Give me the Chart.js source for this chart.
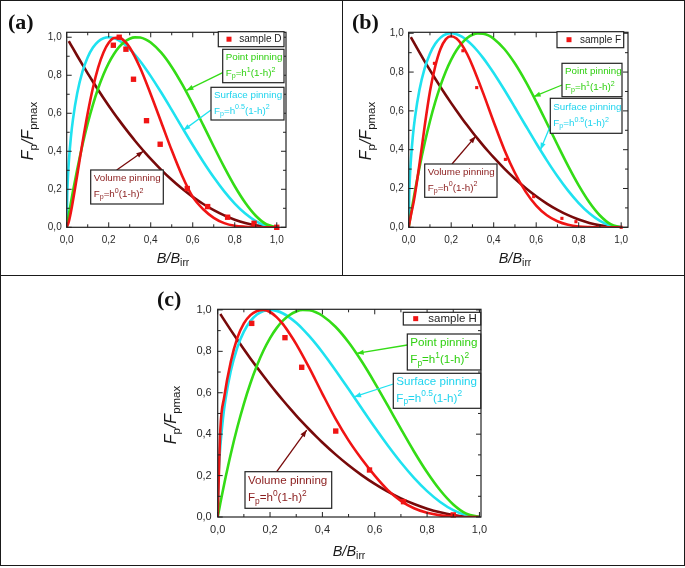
<!DOCTYPE html>
<html><head><meta charset="utf-8">
<script src="https://cdn.jsdelivr.net/npm/chart.js@4/dist/chart.umd.min.js"></script>
<style>
body{margin:0;background:#fff;}
#wrap{position:relative;width:685px;height:568px;overflow:hidden;background:#fff;}
#wrap canvas{position:absolute;}
.ln{position:absolute;background:#1a1a1a;}
</style></head><body>
<div id="wrap">
<canvas id="ca" width="342" height="275" style="left:0;top:0"></canvas>
<canvas id="cb" width="343" height="275" style="left:342px;top:0"></canvas>
<canvas id="cc" width="685" height="293" style="left:0;top:275px"></canvas>
<div class="ln" style="left:0;top:0;width:685px;height:1px"></div>
<div class="ln" style="left:0;top:0;width:1px;height:566px"></div>
<div class="ln" style="left:684px;top:0;width:1px;height:566px"></div>
<div class="ln" style="left:0;top:565px;width:685px;height:1px"></div>
<div class="ln" style="left:342px;top:0;width:1px;height:275px"></div>
<div class="ln" style="left:0;top:275px;width:685px;height:1px"></div>
</div>
<script>
// ---------- data ----------
const H = [0, 0.0025, 0.005, 0.01, 0.02, 0.03, 0.05, 0.075, 0.1, 0.125, 0.15, 0.175, 0.2, 0.225, 0.25, 0.275, 0.3, 0.325, 0.35, 0.375, 0.4, 0.45, 0.5, 0.55, 0.6, 0.65, 0.7, 0.75, 0.8, 0.85, 0.9, 0.95, 1.0];
const pointPinning = [0, 0.0167, 0.0331, 0.0662, 0.1297, 0.1905, 0.3046, 0.4332, 0.5468, 0.6460, 0.7315, 0.8040, 0.864, 0.9122, 0.9492, 0.9757, 0.9923, 0.9995, 0.9982, 0.9888, 0.972, 0.9188, 0.8438, 0.7518, 0.648, 0.5375, 0.4253, 0.3164, 0.216, 0.1291, 0.0608, 0.016, 0];
const surfacePinning = [0, 0.1738, 0.2446, 0.3424, 0.4745, 0.5694, 0.7051, 0.8187, 0.8949, 0.9458, 0.9777, 0.9948, 1.0, 0.9954, 0.9826, 0.9630, 0.9377, 0.9075, 0.8733, 0.8358, 0.7955, 0.7090, 0.6176, 0.5247, 0.4330, 0.3451, 0.2631, 0.1891, 0.1250, 0.0725, 0.0331, 0.0085, 0];
const volumePinning = [null, null, null, 0.9801, 0.9604, 0.9409, 0.9025, 0.8556, 0.81, 0.7656, 0.7225, 0.6806, 0.64, 0.6006, 0.5625, 0.5256, 0.49, 0.4556, 0.4225, 0.3906, 0.36, 0.3025, 0.25, 0.2025, 0.16, 0.1225, 0.09, 0.0625, 0.04, 0.0225, 0.01, 0.0025, 0];

const FIT_H = [0, 0.01, 0.025, 0.05, 0.075, 0.1, 0.125, 0.15, 0.175, 0.2, 0.225, 0.25, 0.275, 0.3, 0.35, 0.4, 0.45, 0.5, 0.55, 0.6, 0.65, 0.7, 0.75, 0.8, 0.85, 0.9, 0.95, 1.0];
const fitD = [0, 0.03, 0.11, 0.274, 0.444, 0.60, 0.734, 0.841, 0.92, 0.971, 0.996, 0.998, 0.98, 0.946, 0.838, 0.70, 0.553, 0.405, 0.27, 0.16, 0.095, 0.05, 0.022, 0.008, 0.003, 0.001, 0, 0];
const fitF = [0, 0.06, 0.14, 0.32, 0.52, 0.70, 0.83, 0.92, 0.97, 0.985, 0.973, 0.941, 0.893, 0.833, 0.693, 0.543, 0.40, 0.28, 0.184, 0.112, 0.062, 0.031, 0.013, 0.004, 0.001, 0, 0, 0];
const fitHcurve = [0, 0.42, 0.58, 0.75, 0.865, 0.935, 0.975, 0.995, 1.0, 0.99, 0.965, 0.93, 0.885, 0.835, 0.72, 0.595, 0.475, 0.37, 0.28, 0.2, 0.13, 0.078, 0.042, 0.02, 0.008, 0.003, 0, 0];

const sampleDx = [0.222, 0.25, 0.282, 0.318, 0.38, 0.445, 0.574, 0.671, 0.766, 0.892, 1.0];
const sampleDy = [0.958, 1.0, 0.937, 0.779, 0.561, 0.437, 0.204, 0.109, 0.053, 0.021, 0.0];
const sampleFx = [0.121, 0.255, 0.32, 0.455, 0.588, 0.721, 0.787, 1.0];
const sampleFy = [0.845, 0.91, 0.72, 0.35, 0.158, 0.046, 0.029, 0.0];
const sampleHx = [0.13, 0.257, 0.321, 0.451, 0.58, 0.71, 0.9];
const sampleHy = [0.935, 0.866, 0.723, 0.415, 0.227, 0.074, 0.01];

const tickValues = [0, 0.2, 0.4, 0.6, 0.8, 1.0];
const tickLabels = ['0,0', '0,2', '0,4', '0,6', '0,8', '1,0'];
const minorTickValues = [0.1, 0.3, 0.5, 0.7, 0.9];

// ---------- styles ----------
const C = {
  red: '#f01414', green: '#34dc16', cyan: '#1fe2f0', brown: '#780a0a',
  greenTxt: '#2fd010', cyanTxt: '#1fd4ee', brownTxt: '#8a1c1c'
};
const SANS = '"Liberation Sans", Arial, sans-serif';
const SERIF = '"Liberation Serif", "Times New Roman", serif';

function xy(xs, ys) { return xs.map((x, i) => ({ x: x, y: ys[i] })); }

function fontFor(p, size) {
  const s = (p.sub || p.sup) ? size * 0.72 : size;
  return (p.i ? 'italic ' : '') + s.toFixed(1) + 'px ' + SANS;
}
function richWidth(ctx, parts, size) {
  let w = 0;
  parts.forEach(p => { ctx.font = fontFor(p, size); w += ctx.measureText(p.t).width; });
  return w;
}
function drawRich(ctx, parts, x, y, size, color, align) {
  ctx.fillStyle = color;
  ctx.textBaseline = 'middle';
  ctx.textAlign = 'left';
  let cx = x;
  if (align === 'center') cx = x - richWidth(ctx, parts, size) / 2;
  parts.forEach(p => {
    ctx.font = fontFor(p, size);
    let dy = 0;
    if (p.sub) dy = size * 0.3;
    if (p.sup) dy = -size * 0.38;
    ctx.fillText(p.t, cx, y + dy);
    cx += ctx.measureText(p.t).width;
  });
}
function formula(exp) {
  return [{ t: 'F' }, { t: 'p', sub: 1 }, { t: '=h' }, { t: exp, sup: 1 }, { t: '(1-h)' }, { t: '2', sup: 1 }];
}
const yTitleParts = [{ t: 'F', i: 1 }, { t: 'p', sub: 1 }, { t: '/', i: 1 }, { t: 'F', i: 1 }, { t: 'pmax', sub: 1 }];
const xTitleParts = [{ t: 'B', i: 1 }, { t: '/', i: 1 }, { t: 'B', i: 1 }, { t: 'irr', sub: 1 }];

const decor = {
  id: 'decor',
  afterDatasetsDraw(chart) {
    const c = chart.options.plugins.decor;
    const ctx = chart.ctx, a = chart.chartArea;
    const xs = chart.scales.x, ys = chart.scales.y;
    ctx.save();
    // frame
    ctx.strokeStyle = '#222'; ctx.lineWidth = 1.2;
    ctx.strokeRect(a.left, a.top, a.right - a.left, a.bottom - a.top);
    // inward ticks on four sides
    ctx.lineWidth = 1;
    const seg = (x1, y1, x2, y2) => { ctx.beginPath(); ctx.moveTo(x1, y1); ctx.lineTo(x2, y2); ctx.stroke(); };
    const doTicks = (vals, len) => vals.forEach(v => {
      const px = xs.getPixelForValue(v), py = ys.getPixelForValue(v);
      seg(px, a.bottom, px, a.bottom - len); seg(px, a.top, px, a.top + len);
      seg(a.left, py, a.left + len, py); seg(a.right, py, a.right - len, py);
    });
    doTicks(tickValues, 5); doTicks(minorTickValues, 3);

    // legend box
    const L = c.legend;
    ctx.fillStyle = '#fff';
    ctx.fillRect(L[0], L[1], L[2] - L[0], L[3] - L[1]);
    ctx.strokeStyle = '#222'; ctx.lineWidth = 1.2;
    ctx.strokeRect(L[0], L[1], L[2] - L[0], L[3] - L[1]);
    const lc = (L[1] + L[3]) / 2;
    ctx.fillStyle = C.red;
    ctx.fillRect(L[0] + c.legMk - 2.5, lc - 2.5, 5, 5);
    ctx.fillStyle = '#222'; ctx.font = c.legFont + 'px ' + SANS;
    ctx.textBaseline = 'middle'; ctx.textAlign = 'left';
    ctx.fillText(c.sampleName, L[0] + c.legTx, lc + 0.5);

    // annotation boxes + arrows
    c.notes.forEach(n => {
      const b = n.box;
      const tipX = xs.getPixelForValue(n.tip[0]), tipY = ys.getPixelForValue(n.tip[1]);
      ctx.strokeStyle = n.line; ctx.fillStyle = n.line; ctx.lineWidth = 1.3;
      seg(n.tail[0], n.tail[1], tipX, tipY);
      const ang = Math.atan2(tipY - n.tail[1], tipX - n.tail[0]);
      ctx.beginPath();
      ctx.moveTo(tipX, tipY);
      ctx.lineTo(tipX - 7 * Math.cos(ang) + 2.6 * Math.sin(ang), tipY - 7 * Math.sin(ang) - 2.6 * Math.cos(ang));
      ctx.lineTo(tipX - 7 * Math.cos(ang) - 2.6 * Math.sin(ang), tipY - 7 * Math.sin(ang) + 2.6 * Math.cos(ang));
      ctx.closePath(); ctx.fill();
      ctx.fillStyle = '#fff';
      ctx.fillRect(b[0], b[1], b[2] - b[0], b[3] - b[1]);
      ctx.strokeStyle = '#222'; ctx.lineWidth = 1.2;
      ctx.strokeRect(b[0], b[1], b[2] - b[0], b[3] - b[1]);
      const h = b[3] - b[1];
      drawRich(ctx, [{ t: n.name }], b[0] + 3, b[1] + 0.245 * h, c.annFont, n.txt, 'left');
      drawRich(ctx, formula(n.exp), b[0] + 3, b[1] + 0.72 * h, c.annFont, n.txt, 'left');
    });
    ctx.restore();
  },
  afterDraw(chart) {
    const c = chart.options.plugins.decor;
    const ctx = chart.ctx;
    ctx.save();
    // panel label
    ctx.font = 'bold 22px ' + SERIF; ctx.fillStyle = '#111';
    ctx.textBaseline = 'middle'; ctx.textAlign = 'left';
    ctx.fillText(c.panel, c.panelPos[0], c.panelPos[1]);
    // y title
    ctx.save();
    ctx.translate(c.yTitle[0], c.yTitle[1]); ctx.rotate(-Math.PI / 2);
    drawRich(ctx, yTitleParts, 0, 0, c.titleFont, '#1a1a1a', 'center');
    ctx.restore();
    drawRich(ctx, xTitleParts, c.xTitle[0], c.xTitle[1], c.titleFont - 1.5, '#1a1a1a', 'center');
    ctx.restore();
  }
};

function makeChart(id, cfg) {
  const tickFont = { family: SANS, size: cfg.tickFont };
  return new Chart(document.getElementById(id), {
    type: 'line',
    data: {
      datasets: [
        { label: cfg.sampleName, data: xy(cfg.sx, cfg.sy), showLine: false, pointStyle: 'rect',
          pointRadius: cfg.markR, pointBackgroundColor: C.red, pointBorderWidth: 0, clip: false },
        { label: 'fit', data: xy(FIT_H, cfg.fit), borderColor: C.red, borderWidth: 2.6, pointRadius: 0, cubicInterpolationMode: 'monotone' },
        { label: 'Point pinning', data: xy(H, pointPinning), borderColor: C.green, borderWidth: 2.6, pointRadius: 0, cubicInterpolationMode: 'monotone' },
        { label: 'Surface pinning', data: xy(H, surfacePinning), borderColor: C.cyan, borderWidth: 2.6, pointRadius: 0, cubicInterpolationMode: 'monotone' },
        { label: 'Volume pinning', data: xy(H, volumePinning), borderColor: C.brown, borderWidth: 2.6, pointRadius: 0, cubicInterpolationMode: 'monotone' }
      ]
    },
    options: {
      responsive: false, animation: false, devicePixelRatio: 1,
      layout: { padding: cfg.pad },
      plugins: {
        legend: { display: false }, tooltip: { enabled: false },
        decor: cfg
      },
      scales: {
        x: {
          type: 'linear', min: 0, max: cfg.xmax,
          grid: { display: false, drawTicks: false }, border: { display: false },
          afterBuildTicks: s => { s.ticks = tickValues.map(v => ({ value: v })); },
          afterFit: s => { s.height = cfg.axH; },
          ticks: { font: tickFont, color: '#2a2a2a', padding: cfg.xPad, maxRotation: 0, minRotation: 0, autoSkip: false,
                   callback: (v, i) => tickLabels[i] }
        },
        y: {
          type: 'linear', min: 0, max: cfg.ymax,
          grid: { display: false, drawTicks: false }, border: { display: false },
          afterBuildTicks: s => { s.ticks = tickValues.map(v => ({ value: v })); },
          afterFit: s => { s.width = cfg.axW; },
          ticks: { font: tickFont, color: '#2a2a2a', padding: cfg.yPad, autoSkip: false,
                   callback: (v, i) => tickLabels[i] }
        }
      }
    },
    plugins: [decor]
  });
}

makeChart('ca', {
  panel: '(a)', panelPos: [8, 23], sampleName: 'sample D', sx: sampleDx, sy: sampleDy, fit: fitD, markR: 3.8,
  axW: 40, axH: 28,
  pad: { left: 26.7, top: 32.3, right: 56, bottom: 19.7 }, xmax: 1.044, ymax: 1.026,
  tickFont: 10, xPad: 7, yPad: 5, annFont: 9.8, legFont: 10, titleFont: 16, legMk: 10.7, legTx: 21,
  yTitle: [29, 131], xTitle: [173, 259],
  legend: [218.3, 31.7, 284, 46.7],
  notes: [
    { name: 'Point pinning', exp: '1', box: [222.7, 49.3, 284, 82.7], tail: [222.7, 72.7], tip: [0.57, 0.72], line: C.green, txt: C.greenTxt },
    { name: 'Surface pinning', exp: '0.5', box: [211, 87.3, 284, 120], tail: [211, 110], tip: [0.555, 0.51], line: C.cyan, txt: C.cyanTxt },
    { name: 'Volume pinning', exp: '0', box: [90.7, 170, 163.3, 204], tail: [116.7, 170], tip: [0.365, 0.40], line: C.brown, txt: C.brownTxt }
  ]
});

makeChart('cb', {
  panel: '(b)', panelPos: [10, 23], sampleName: 'sample F', sx: sampleFx, sy: sampleFy, fit: fitF, markR: 2.2,
  axW: 40, axH: 28,
  pad: { left: 26.7, top: 32.3, right: 57, bottom: 19.7 }, xmax: 1.032, ymax: 1.005,
  tickFont: 10, xPad: 7, yPad: 5, annFont: 9.8, legFont: 10, titleFont: 16, legMk: 12, legTx: 23,
  yTitle: [25, 131], xTitle: [173, 259],
  legend: [215, 31.7, 281.7, 47.7],
  notes: [
    { name: 'Point pinning', exp: '1', box: [220, 63.3, 280, 96.7], tail: [220, 85], tip: [0.588, 0.673], line: C.green, txt: C.greenTxt },
    { name: 'Surface pinning', exp: '0.5', box: [208.3, 98.3, 280, 133.3], tail: [208.3, 126], tip: [0.62, 0.40], line: C.cyan, txt: C.cyanTxt },
    { name: 'Volume pinning', exp: '0', box: [82.7, 164, 155, 197.3], tail: [110, 164], tip: [0.315, 0.469], line: C.brown, txt: C.brownTxt }
  ]
});

makeChart('cc', {
  panel: '(c)', panelPos: [157, 25], sampleName: 'sample H', sx: sampleHx, sy: sampleHy, fit: fitHcurve, markR: 3.8,
  axW: 45, axH: 28,
  pad: { left: 172.7, top: 34.3, right: 204, bottom: 23 }, xmax: 1.006, ymax: 1.003,
  tickFont: 11, xPad: 6, yPad: 6, annFont: 11.6, legFont: 11.5, titleFont: 16, legMk: 12.4, legTx: 25,
  yTitle: [172, 140], xTitle: [349, 277],
  legend: [403.3, 37.3, 480.7, 50],
  notes: [
    { name: 'Point pinning', exp: '1', box: [407.3, 59, 480.7, 95], tail: [407.3, 70], tip: [0.531, 0.79], line: C.green, txt: C.greenTxt },
    { name: 'Surface pinning', exp: '0.5', box: [393.3, 98.3, 480.7, 133.3], tail: [393.3, 109], tip: [0.521, 0.58], line: C.cyan, txt: C.cyanTxt },
    { name: 'Volume pinning', exp: '0', box: [245, 196.7, 331.7, 233.3], tail: [276.7, 196.7], tip: [0.34, 0.42], line: C.brown, txt: C.brownTxt }
  ]
});
</script>
</body></html>
